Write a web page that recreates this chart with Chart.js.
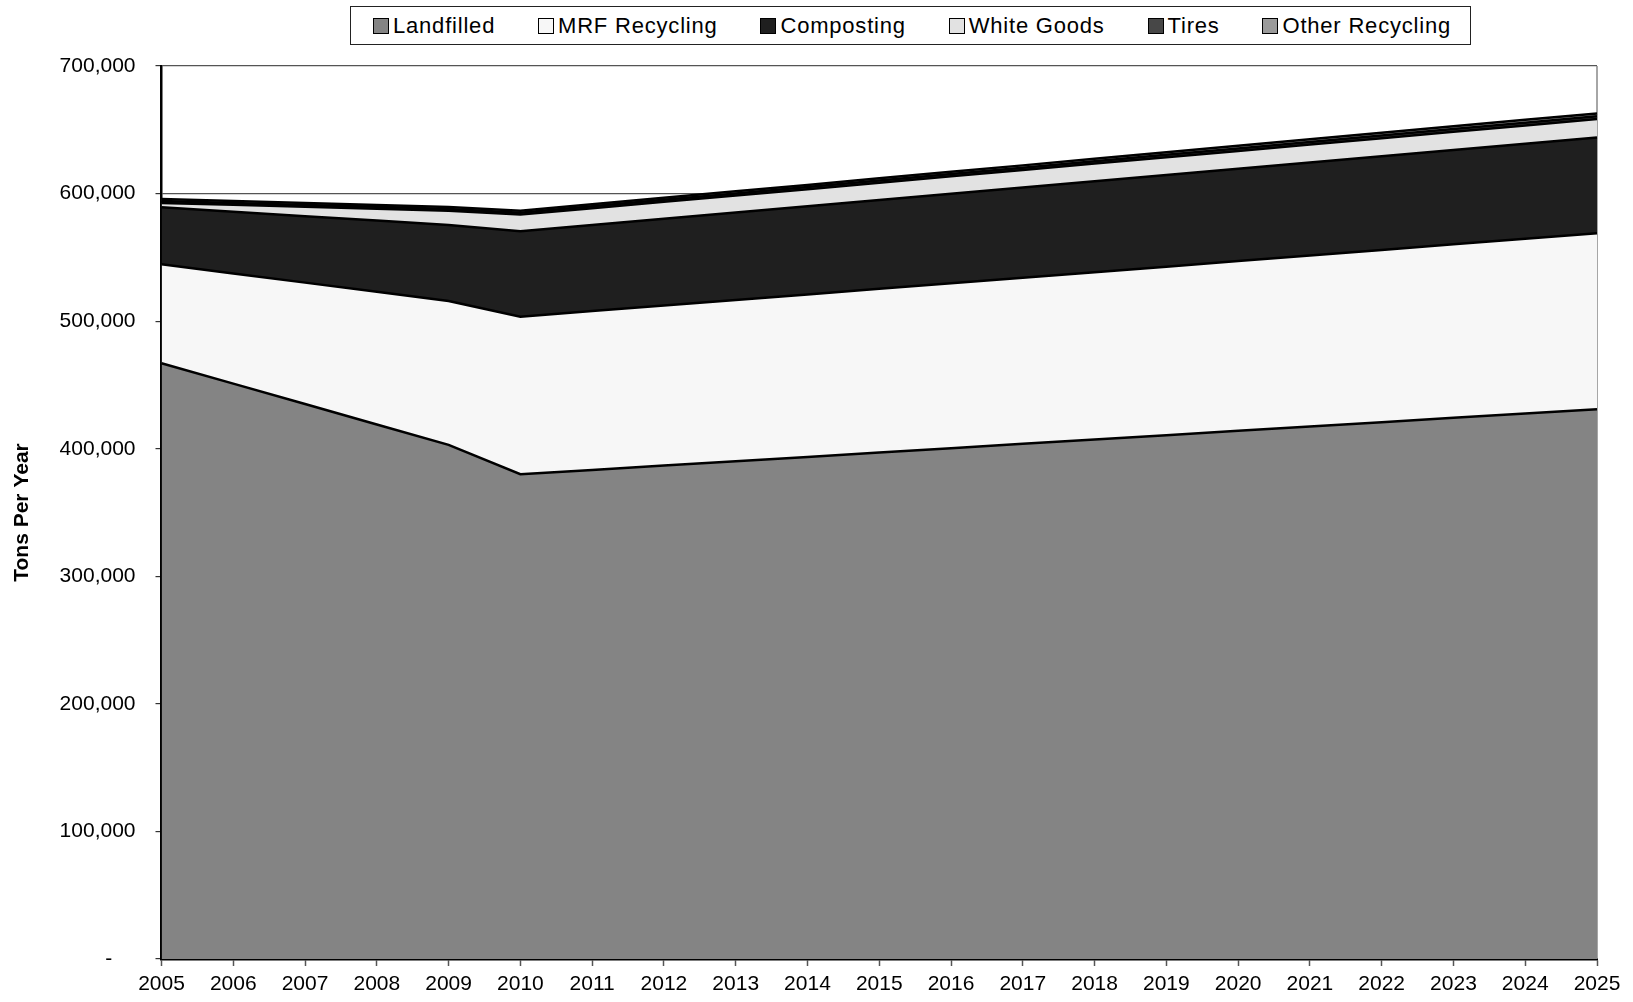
<!DOCTYPE html>
<html>
<head>
<meta charset="utf-8">
<script src="https://cdn.jsdelivr.net/npm/chart.js@4.4.1/dist/chart.umd.min.js"></script>
<style>
  html, body { margin: 0; padding: 0; background: #fff; }
  #wrap { position: relative; width: 1633px; height: 1002px; }
  #legend {
    position: absolute; left: 350px; top: 6px; width: 1121px; height: 39px;
    box-sizing: border-box; border: 1px solid #222; background: #fff;
    display: flex; align-items: center; justify-content: space-between;
    padding: 0 19px 0 22px;
    font-family: 'Liberation Sans', Arial, sans-serif; font-size: 22px; letter-spacing: 0.8px; color: #000;
  }
  #legend .item { display: flex; align-items: center; white-space: nowrap; }
  #legend .sw { width: 14px; height: 14px; border: 1px solid #000; margin-right: 4px; }
</style>
</head>
<body>
<div id="wrap">
  <canvas id="chart" width="1633" height="1002"></canvas>
  <div id="legend"></div>
</div>
<script>
  // Waste tonnage by disposal stream, 2005-2025 (tons per year)
  const years = ['2005','2006','2007','2008','2009','2010','2011','2012','2013','2014','2015',
                 '2016','2017','2018','2019','2020','2021','2022','2023','2024','2025'];

  const landfilled   = [467000, 451000, 435000, 419000, 403000, 380000, 383400, 386800, 390200, 393600, 397000,
                        400400, 403800, 407200, 410600, 414000, 417400, 420800, 424200, 427600, 431000];
  const mrfRecycling = [77600, 86400, 95200, 104000, 112800, 123500, 124500, 125400, 126400, 127300, 128300,
                        129300, 130200, 131200, 132100, 133100, 134000, 135000, 136000, 136900, 137900];
  const composting   = [44600, 48400, 52100, 55900, 59600, 67000, 67500, 68100, 68600, 69100, 69700,
                        70200, 70700, 71300, 71800, 72300, 72900, 73400, 73900, 74500, 75000];
  const whiteGoods   = [3500, 5400, 7300, 9200, 11100, 13000, 13100, 13200, 13300, 13400, 13500,
                        13600, 13700, 13800, 13900, 14000, 14100, 14200, 14300, 14400, 14500];
  const tires        = [1500, 1500, 1500, 1500, 1500, 1500, 1550, 1600, 1650, 1700, 1750,
                        1800, 1850, 1900, 1950, 2000, 2050, 2100, 2150, 2200, 2200];
  const otherRecycling = [1500, 1500, 1500, 1500, 1500, 1500, 1550, 1600, 1650, 1700, 1750,
                          1800, 1850, 1900, 1950, 2000, 2050, 2100, 2150, 2200, 2200];

  const seriesNames = ['Landfilled', 'MRF Recycling', 'Composting', 'White Goods', 'Tires', 'Other Recycling'];
  const seriesData  = [landfilled, mrfRecycling, composting, whiteGoods, tires, otherRecycling];
  const seriesFill  = ['#848484', '#f7f7f7', '#1f1f1f', '#e2e2e2', '#474747', '#9a9a9a'];

  const yTicks = [0, 100000, 200000, 300000, 400000, 500000, 600000, 700000];

  // stacked areas, each filled down to the one below it
  const datasets = seriesNames.map((name, i) => ({
    label: name,
    data: seriesData[i],
    backgroundColor: seriesFill[i],
    borderColor: '#000',
    borderWidth: 2.5,
    pointRadius: 0,
    tension: 0,
    fill: i === 0 ? 'origin' : '-1'
  }));

  // grey frame on the right edge of the plot area (under the areas)
  const plotFrame = {
    id: 'plotFrame',
    beforeDatasetsDraw(chart) {
      const { ctx, chartArea } = chart;
      ctx.save();
      ctx.strokeStyle = '#888';
      ctx.lineWidth = 1.5;
      ctx.beginPath();
      ctx.moveTo(chartArea.right, chartArea.top);
      ctx.lineTo(chartArea.right, chartArea.bottom);
      ctx.stroke();
      ctx.restore();
    }
  };

  const font = { family: "'Liberation Sans', Arial, sans-serif", size: 21 };

  new Chart(document.getElementById('chart'), {
    type: 'line',
    data: { labels: years, datasets },
    plugins: [plotFrame],
    options: {
      responsive: false,
      animation: false,
      layout: { padding: { top: 66, right: 36, bottom: 0, left: 0 } },
      plugins: { legend: { display: false }, tooltip: { enabled: false } },
      elements: { line: { borderJoinStyle: 'miter' } },
      scales: {
        x: {
          offset: false,
          grid: { drawOnChartArea: false, drawTicks: true, tickLength: 7, tickColor: '#555', tickWidth: 1.5 },
          border: { color: '#000', width: 2.5 },
          ticks: { color: '#000', font, padding: 6, maxRotation: 0, autoSkip: false },
          afterFit(scale) { scale.height = 43; }
        },
        y: {
          stacked: true,
          min: 0,
          max: 700000,
          afterBuildTicks(scale) { scale.ticks = yTicks.map(v => ({ value: v })); },
          grid: { color: '#555', lineWidth: 1.2, tickLength: 6, tickColor: '#333' },
          border: { color: '#000', width: 2.5 },
          ticks: {
            color: '#000', font, padding: 20,
            callback: v => v === 0 ? '-    ' : v.toLocaleString('en-US')
          },
          title: {
            display: true, text: 'Tons Per Year', color: '#000',
            font: { family: font.family, size: 21, weight: 'bold' },
            padding: { top: 10, bottom: 0 }
          },
          afterFit(scale) { scale.width = 161.5; }
        }
      }
    }
  });

  // legend row above the plot
  const legend = document.getElementById('legend');
  seriesNames.forEach((name, i) => {
    const item = document.createElement('div');
    item.className = 'item';
    const sw = document.createElement('span');
    sw.className = 'sw';
    sw.style.background = seriesFill[i];
    item.appendChild(sw);
    item.appendChild(document.createTextNode(name));
    legend.appendChild(item);
  });
</script>
</body>
</html>
